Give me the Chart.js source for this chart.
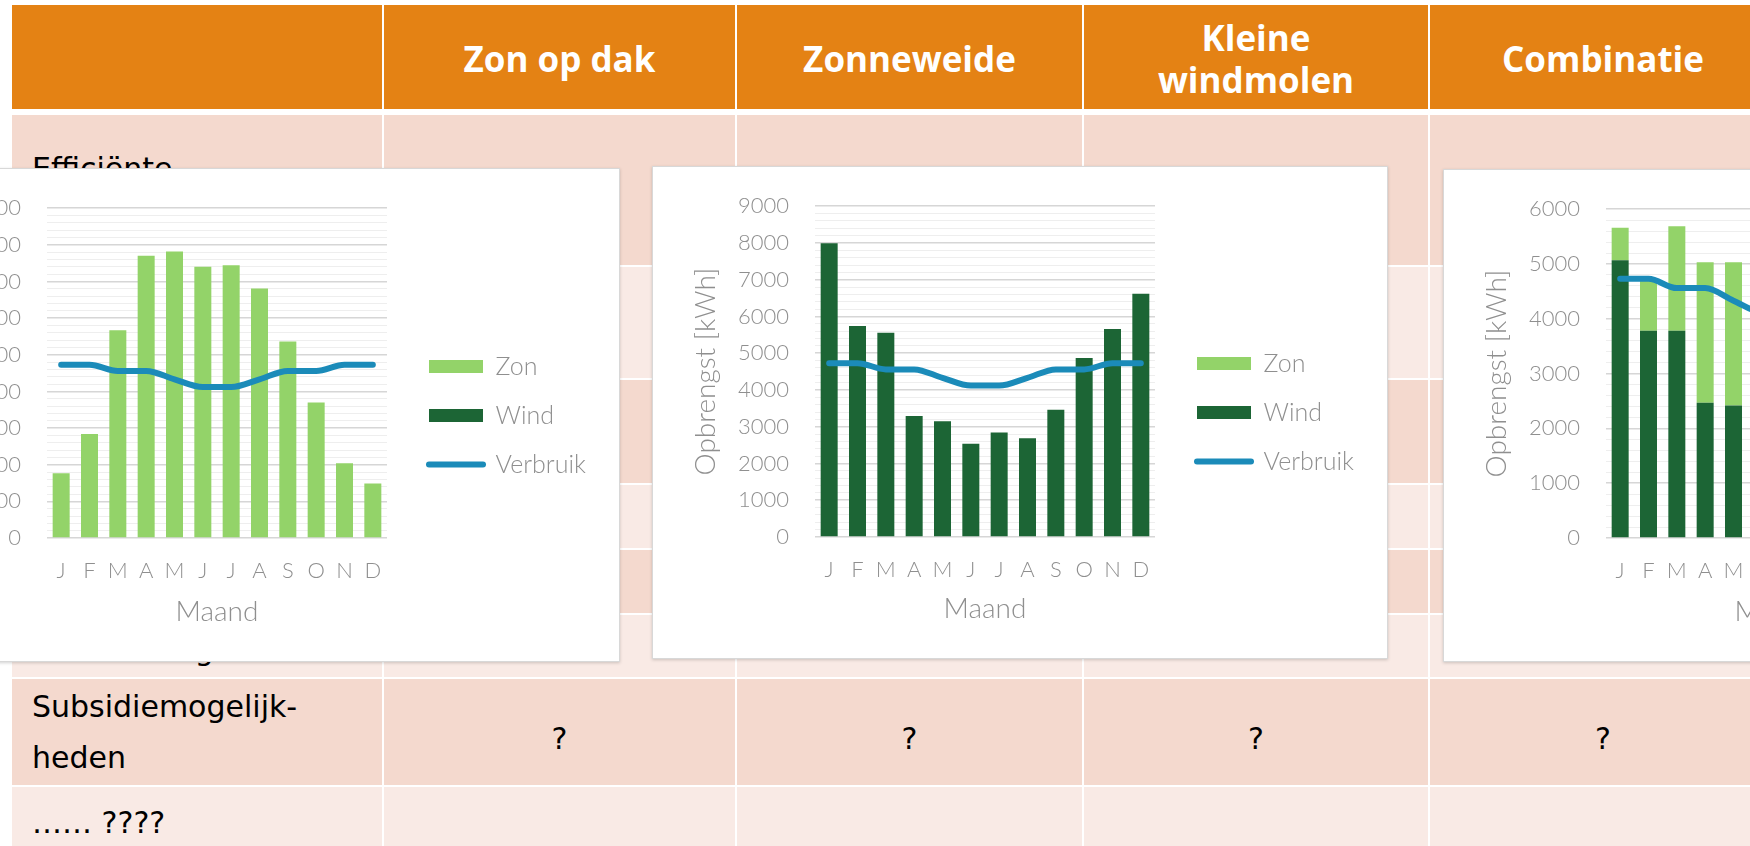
<!DOCTYPE html>
<html>
<head>
<meta charset="utf-8">
<script src="https://cdn.jsdelivr.net/npm/chart.js@4.4.1/dist/chart.umd.min.js"></script>
<style>
  html, body { margin: 0; padding: 0; width: 1750px; height: 846px; overflow: hidden; background: #fff; }
  #grid { position: absolute; left: 10px; top: 3px; border-collapse: separate; border-spacing: 2px; table-layout: fixed; width: 1768px;
          font-family: 'DejaVu Sans', sans-serif; font-size: 30px; line-height: 51px; color: #000; }
  #grid th { background: #E48214; color: #fff; font-family: 'Open Sans', sans-serif; font-weight: 700; font-size: 35px; line-height: 42px;
             text-align: center; vertical-align: middle; padding: 4px 0 0 0; border-bottom: 4px solid #fff; }
  #grid td { padding: 0; vertical-align: middle; text-align: center; }
  #grid td.lbl { text-align: left; padding-left: 20px; }
  #grid td.top { vertical-align: top; }
  tr.dark td { background: #F4D9CE; }
  tr.light td { background: #F9EAE5; }
  .box { position: absolute; background: #fff; border: 1px solid #d8d8d8; box-shadow: 0 1px 3px rgba(0,0,0,0.18); }
  .box canvas { position: absolute; left: 0; top: 0; }
</style>
</head>
<body>
<table id="grid">
  <colgroup>
    <col style="width:370px"><col style="width:351px"><col style="width:345px"><col style="width:344px"><col style="width:346px">
  </colgroup>
  <tr style="height:108px"><th></th><th>Zon op dak</th><th>Zonneweide</th><th>Kleine<br>windmolen</th><th>Combinatie</th></tr>
  <tr class="dark" style="height:150px"><td class="lbl top" style="padding-top:28px">Efficiënte</td><td></td><td></td><td></td><td></td></tr>
  <tr class="light" style="height:111px"><td class="lbl"></td><td></td><td></td><td></td><td></td></tr>
  <tr class="dark" style="height:103px"><td class="lbl"></td><td></td><td></td><td></td><td></td></tr>
  <tr class="light" style="height:63px"><td class="lbl"></td><td></td><td></td><td></td><td></td></tr>
  <tr class="dark" style="height:63px"><td class="lbl"></td><td></td><td></td><td></td><td></td></tr>
  <tr class="light" style="height:62px"><td class="lbl top" style="padding-top:9px">Financiering</td><td></td><td></td><td></td><td></td></tr>
  <tr class="dark" style="height:106px"><td class="lbl">Subsidiemogelijk-<br>heden</td>
    <td style="padding-top:12px">?</td><td style="padding-top:12px">?</td><td style="padding-top:12px">?</td><td style="padding-top:12px">?</td></tr>
  <tr class="light" style="height:70px"><td class="lbl">…… ????</td><td></td><td></td><td></td><td></td></tr>
</table>

<div class="box" style="left:-116px; top:168px; width:734px; height:492px"><canvas id="chartZonOpDak" width="734" height="492"></canvas></div>
<div class="box" style="left:652px; top:166px; width:734px; height:491px"><canvas id="chartZonneweide" width="734" height="491"></canvas></div>
<div class="box" style="left:1443px; top:169px; width:734px; height:491px"><canvas id="chartCombinatie" width="734" height="491"></canvas></div>

<script>
// data (kWh per month)
const months = ['J', 'F', 'M', 'A', 'M', 'J', 'J', 'A', 'S', 'O', 'N', 'D'];
const verbruik = [4730, 4730, 4560, 4560, 4330, 4120, 4120, 4330, 4560, 4560, 4730, 4730];

const zonOpDakZon = [1770, 2840, 5670, 7700, 7820, 7400, 7440, 6810, 5360, 3700, 2040, 1490];
const zonOpDakWind = [0, 0, 0, 0, 0, 0, 0, 0, 0, 0, 0, 0];

const zonneweideZon = [0, 0, 0, 0, 0, 0, 0, 0, 0, 0, 0, 0];
const zonneweideWind = [7990, 5740, 5560, 3290, 3150, 2540, 2840, 2690, 3460, 4870, 5660, 6620];

const combinatieZon = [590, 940, 1910, 2560, 2610, 2480, 2470, 2270, 1800, 1230, 690, 520];
const combinatieWind = [5070, 3780, 3780, 2470, 2420, 1930, 2140, 2040, 2620, 3500, 3850, 4480];

const yMaxLarge = 9000;
const yMaxSmall = 6000;
const majorStep = 1000;
const minorStep = 200;

const zonColor = '#93D369';
const windColor = '#1C6535';
const lineColor = '#1B8BB9';
const textColor = '#8f8f8f';
const chartFont = 'Lato, "Open Sans", sans-serif';
const legendRank = [1, 0, 2]; // show Zon, Wind, Verbruik

function makeChart(id, zon, wind, yMax, plotTop, plotBottom) {
    const canvas = document.getElementById(id);
    const H = canvas.height;
    const padBottom = 30;

    const chart = new Chart(canvas, {
        type: 'bar',
        data: {
            labels: months,
            datasets: [
                { label: 'Wind', data: wind, backgroundColor: windColor, borderWidth: 0, pointStyle: 'rect',
                  barPercentage: 0.6, categoryPercentage: 1, order: 1 },
                { label: 'Zon', data: zon, backgroundColor: zonColor, borderWidth: 0, pointStyle: 'rect',
                  barPercentage: 0.6, categoryPercentage: 1, order: 1 },
                { type: 'line', label: 'Verbruik', data: verbruik, borderColor: lineColor, backgroundColor: lineColor,
                  borderWidth: 6, borderCapStyle: 'round', pointRadius: 0, pointHoverRadius: 0, pointStyle: 'line',
                  cubicInterpolationMode: 'monotone', order: 0 }
            ]
        },
        options: {
            responsive: false,
            animation: false,
            layout: { padding: { top: plotTop, bottom: padBottom, left: 0, right: 30 } },
            plugins: {
                tooltip: { enabled: false },
                legend: {
                    position: 'right',
                    align: 'center',
                    maxWidth: 320,
                    labels: {
                        usePointStyle: true,
                        pointStyleWidth: 54,
                        boxHeight: 13,
                        padding: 24,
                        color: textColor,
                        font: { family: chartFont, size: 25, weight: '300' },
                        sort: (a, b) => legendRank[a.datasetIndex] - legendRank[b.datasetIndex],
                        generateLabels(c) {
                            const items = Chart.defaults.plugins.legend.labels.generateLabels(c);
                            items.forEach(it => {
                                if (it.datasetIndex === 2) { it.lineWidth = 6; it.lineCap = 'round'; }
                            });
                            return items;
                        }
                    }
                }
            },
            scales: {
                x: {
                    stacked: true,
                    grid: { display: false },
                    border: { display: false },
                    ticks: { color: textColor, padding: 12, font: { family: chartFont, size: 22, weight: '300' } },
                    title: { display: true, text: 'Maand', color: textColor, padding: { top: 0, bottom: 2 },
                             font: { family: chartFont, size: 28, weight: '300' } },
                    afterFit(s) { s.height = H - padBottom - plotBottom; }
                },
                y: {
                    stacked: true,
                    min: 0,
                    max: yMax,
                    border: { display: false },
                    grid: {
                        drawTicks: false,
                        color: ctx => ctx.tick && ctx.tick.value % majorStep === 0 ? '#d6d6d6' : '#eeeeee',
                        lineWidth: ctx => ctx.tick && ctx.tick.value % majorStep === 0 ? 1.6 : 1
                    },
                    ticks: {
                        stepSize: minorStep,
                        autoSkip: false,
                        padding: 26,
                        color: textColor,
                        font: { family: chartFont, size: 22, weight: '300' },
                        callback: v => (v % majorStep === 0 ? String(v) : '')
                    },
                    title: { display: true, text: 'Opbrengst [kWh]', color: textColor, padding: { top: 36, bottom: 0 },
                             font: { family: chartFont, size: 28, weight: '300' } },
                    afterFit(s) { s.width = 162; }
                },
                yGap: {
                    position: 'right',
                    grid: { display: false },
                    border: { display: false },
                    ticks: { display: false },
                    afterFit(s) { s.width = 18; }
                }
            }
        }
    });

    // line the plot's right edge up with the picture
    for (let i = 0; i < 3; i++) {
        const diff = chart.chartArea.right - 502;
        if (Math.abs(diff) < 0.5) break;
        chart.options.layout.padding.right += diff;
        chart.update('none');
    }
    return chart;
}

makeChart('chartZonOpDak', zonOpDakZon, zonOpDakWind, yMaxLarge, 31, 369);
makeChart('chartZonneweide', zonneweideZon, zonneweideWind, yMaxLarge, 30, 370);
makeChart('chartCombinatie', combinatieZon, combinatieWind, yMaxSmall, 32, 368);
</script>
</body>
</html>
